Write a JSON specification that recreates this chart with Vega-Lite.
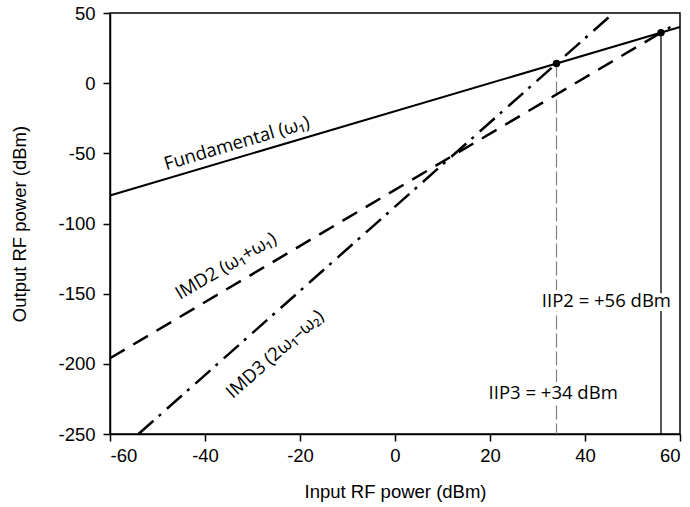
{
  "$schema": "https://vega.github.io/schema/vega-lite/v6.json",
  "width": 570,
  "height": 421,
  "autosize": {"type": "none"},
  "padding": {"left": 110, "top": 13, "right": 10, "bottom": 73},
  "config": {
    "view": {"stroke": "black", "strokeWidth": 1.5},
    "axis": {
      "grid": false,
      "domainColor": "black",
      "domainWidth": 1.5,
      "tickColor": "black",
      "tickWidth": 1.5,
      "tickSize": 7,
      "labelFont": "Liberation Sans",
      "labelFontSize": 18.5,
      "labelColor": "black",
      "titleFont": "Liberation Sans",
      "titleFontSize": 18.5,
      "titleFontWeight": "normal",
      "titleColor": "black"
    }
  },
  "datasets": {
    "fund": [{"x": -60, "y": -80}, {"x": 60, "y": 40}],
    "imd2": [{"x": -60, "y": -196}, {"x": 58, "y": 40}],
    "imd3": [{"x": -54, "y": -250}, {"x": 46, "y": 50}],
    "points": [{"x": 34, "y": 14}, {"x": 56, "y": 36}],
    "iip3": [{"x": 34, "y": 14, "y2": -250}],
    "iip2": [{"x": 56, "y": 36, "y2": -250}],
    "iiplabels": [
      {"x": 44.5, "y": -155, "text": "IIP2 = +56 dBm"},
      {"x": 33.3, "y": -220.5, "text": "IIP3 = +34 dBm"}
    ],
    "curvelabels": [
      {"x": -33.3, "y": -42.7, "text": "Fundamental (ω₁)", "angle": -16.5},
      {"x": -35.6, "y": -130.3, "text": "IMD2 (ω₁+ω₁)", "angle": -30.6},
      {"x": -25.3, "y": -193, "text": "IMD3 (2ω₁–ω₂)", "angle": -41.5}
    ]
  },
  "layer": [
    {
      "data": {"name": "iip3"},
      "mark": {"type": "rule", "color": "#808080", "strokeWidth": 1.2, "strokeDash": [14, 4]},
      "encoding": {
        "x": {"field": "x", "type": "quantitative", "scale": {"domain": [-60, 60], "nice": false, "zero": false},
          "axis": {"values": [-60, -40, -20, 0, 20, 40, 60], "title": "Input RF power (dBm)", "labelExpr": "'' + datum.value", "labelPadding": 5, "titlePadding": 18}},
        "y": {"field": "y", "type": "quantitative", "scale": {"domain": [-250, 50], "nice": false, "zero": false},
          "axis": {"values": [-250, -200, -150, -100, -50, 0, 50], "title": "Output RF power (dBm)", "labelExpr": "'' + datum.value", "labelPadding": 8, "titlePadding": 28}},
        "y2": {"field": "y2"}
      }
    },
    {
      "data": {"name": "iip2"},
      "mark": {"type": "rule", "color": "black", "strokeWidth": 1.3},
      "encoding": {
        "x": {"field": "x", "type": "quantitative"},
        "y": {"field": "y", "type": "quantitative"},
        "y2": {"field": "y2"}
      }
    },
    {
      "data": {"name": "iiplabels"},
      "mark": {"type": "text", "font": "Open Sans", "fontSize": 18.5, "stroke": "white", "strokeWidth": 8, "fill": "white"},
      "encoding": {
        "x": {"field": "x", "type": "quantitative"},
        "y": {"field": "y", "type": "quantitative"},
        "text": {"field": "text"}
      }
    },
    {
      "data": {"name": "iiplabels"},
      "mark": {"type": "text", "font": "Open Sans", "fontSize": 18.5, "color": "black"},
      "encoding": {
        "x": {"field": "x", "type": "quantitative"},
        "y": {"field": "y", "type": "quantitative"},
        "text": {"field": "text"}
      }
    },
    {
      "data": {"name": "fund"},
      "mark": {"type": "line", "color": "black", "strokeWidth": 2},
      "encoding": {
        "x": {"field": "x", "type": "quantitative"},
        "y": {"field": "y", "type": "quantitative"}
      }
    },
    {
      "data": {"name": "imd2"},
      "mark": {"type": "line", "color": "black", "strokeWidth": 2.5, "strokeDash": [17, 10]},
      "encoding": {
        "x": {"field": "x", "type": "quantitative"},
        "y": {"field": "y", "type": "quantitative"}
      }
    },
    {
      "data": {"name": "imd3"},
      "mark": {"type": "line", "color": "black", "strokeWidth": 2.5, "strokeDash": [20, 7, 3, 8]},
      "encoding": {
        "x": {"field": "x", "type": "quantitative"},
        "y": {"field": "y", "type": "quantitative"}
      }
    },
    {
      "data": {"name": "points"},
      "mark": {"type": "point", "filled": true, "color": "black", "size": 55, "opacity": 1},
      "encoding": {
        "x": {"field": "x", "type": "quantitative"},
        "y": {"field": "y", "type": "quantitative"}
      }
    },
    {
      "data": {"name": "curvelabels"},
      "mark": {"type": "text", "font": "Open Sans", "fontSize": 18.5, "color": "black"},
      "encoding": {
        "x": {"field": "x", "type": "quantitative"},
        "y": {"field": "y", "type": "quantitative"},
        "text": {"field": "text"},
        "angle": {"field": "angle", "type": "quantitative", "scale": null}
      }
    }
  ]
}
